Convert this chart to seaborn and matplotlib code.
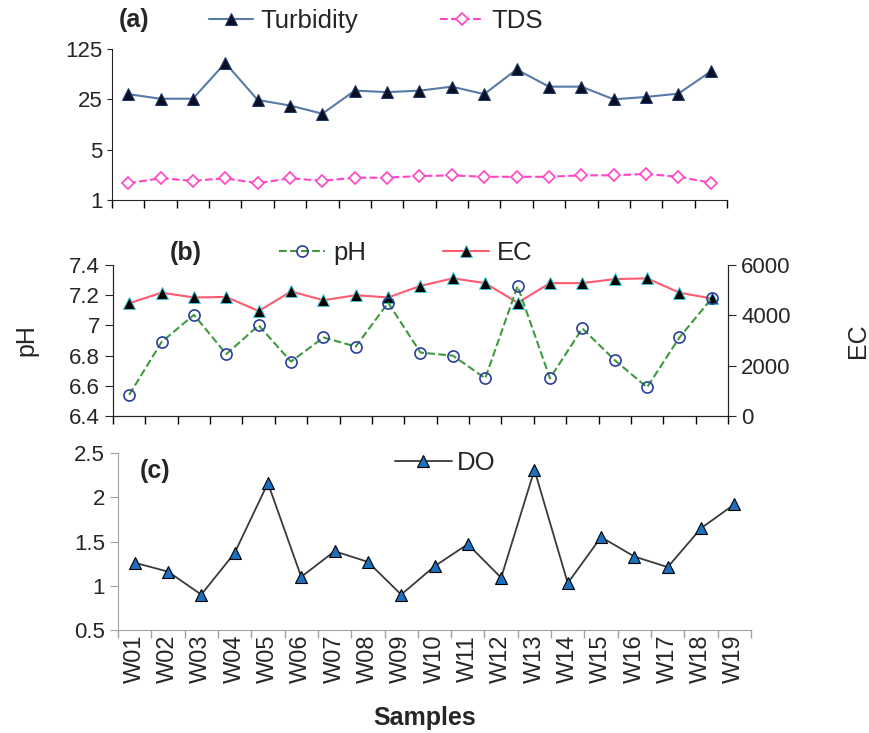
import numpy as np
import seaborn as sns
from matplotlib import pyplot as plt
from matplotlib.ticker import FixedLocator, NullLocator

samples = ["W01", "W02", "W03", "W04", "W05", "W06", "W07", "W08", "W09", "W10",
           "W11", "W12", "W13", "W14", "W15", "W16", "W17", "W18", "W19"]
turbidity = [29.5, 25.5, 25.5, 80, 24.5, 20.5, 15.8, 33, 31.5, 33,
             37.5, 29.5, 65, 37.5, 37.5, 25, 27, 30, 61]
tds = [1.71, 2.0, 1.85, 2.0, 1.71, 2.0, 1.85, 2.04, 2.04, 2.15,
       2.2, 2.1, 2.1, 2.1, 2.2, 2.2, 2.3, 2.1, 1.74]
ph = [6.54, 6.89, 7.07, 6.81, 7.00, 6.76, 6.92, 6.86, 7.15, 6.82,
      6.80, 6.65, 7.26, 6.65, 6.98, 6.77, 6.59, 6.92, 7.18]
ec = [4480, 4900, 4710, 4730, 4170, 4950, 4600, 4800, 4710, 5170,
      5470, 5280, 4500, 5280, 5280, 5440, 5470, 4900, 4670]
do = [1.26, 1.16, 0.90, 1.37, 2.16, 1.10, 1.39, 1.27, 0.90, 1.22,
      1.47, 1.09, 2.31, 1.03, 1.55, 1.33, 1.21, 1.65, 1.92]

sns.set_style("ticks")
plt.rcParams["font.family"] = ["Liberation Sans", "DejaVu Sans"]

W, H = 870, 733
fig = plt.figure(figsize=(W / 100, H / 100), dpi=100)


def box(l, t, r, b):
    return [l / W, 1 - b / H, (r - l) / W, (b - t) / H]


pos = np.arange(len(samples))
tick_fs = 16
leg_fs = 18.5


def style_x(ax, labels=False, color="black"):
    ax.set_xlim(-0.5, len(samples) - 0.5)
    ax.xaxis.set_major_locator(FixedLocator(pos))
    ax.xaxis.set_minor_locator(FixedLocator(np.arange(len(samples) + 1) - 0.5))
    ax.tick_params(axis="x", which="major", length=0)
    ax.tick_params(axis="x", which="minor", length=6, width=1, direction="out", color=color)
    if labels:
        ax.set_xticklabels(samples, rotation=90, fontsize=17)
    else:
        ax.set_xticklabels([])
    ax.set_xlabel("")


# (a) Turbidity / TDS
ax1 = fig.add_axes(box(112, 49, 727, 200))
sns.lineplot(x=pos, y=turbidity, ax=ax1, color="#587aa8", linewidth=1.5,
             marker="^", markersize=9, markerfacecolor="#0b0f24",
             markeredgecolor="#1f3a6a", label="Turbidity")
sns.lineplot(x=pos, y=tds, ax=ax1, color="#ff44c4", linewidth=1.5, linestyle="--",
             marker="D", markersize=6.5, markerfacecolor="white",
             markeredgecolor="#ff44c4", markeredgewidth=1.2, label="TDS")
ax1.set_yscale("log", base=5)
ax1.set_ylim(1, 125)
ax1.yaxis.set_major_locator(FixedLocator([1, 5, 25, 125]))
ax1.yaxis.set_minor_locator(NullLocator())
ax1.set_yticklabels(["1", "5", "25", "125"], fontsize=tick_fs)
style_x(ax1)
sns.despine(ax=ax1)
ax1.get_legend().remove()
fig.legend(*ax1.get_legend_handles_labels(), loc="center left",
           bbox_to_anchor=(186 / W, 1 - 21 / H), ncol=2, frameon=False,
           fontsize=leg_fs, handlelength=1.7, handletextpad=0.3, columnspacing=3.2)
fig.text(119 / W, 1 - 20 / H, "(a)", fontsize=18, fontweight="bold", va="center")

# (b) pH / EC
ax2 = fig.add_axes(box(113, 265, 728, 416))
ax2r = ax2.twinx()
sns.lineplot(x=pos, y=ph, ax=ax2, color="#3f9a3f", linewidth=1.5, linestyle="--",
             marker="o", markersize=8, markerfacecolor="none",
             markeredgecolor="#2b3f9a", markeredgewidth=1.2, label="pH")
sns.lineplot(x=pos, y=ec, ax=ax2r, color="#ff5a6e", linewidth=1.5,
             marker="^", markersize=9, markerfacecolor="black",
             markeredgecolor="#48c4d4", label="EC")
ax2.set_zorder(ax2r.get_zorder() + 1)
ax2.patch.set_visible(False)
ax2.set_ylim(6.4, 7.4)
ax2.set_yticks([6.4, 6.6, 6.8, 7.0, 7.2, 7.4])
ax2.set_yticklabels(["6.4", "6.6", "6.8", "7", "7.2", "7.4"], fontsize=tick_fs)
ax2.set_ylabel("pH", fontsize=18, labelpad=22)
ax2r.set_ylim(0, 6000)
ax2r.set_yticks([0, 2000, 4000, 6000])
ax2r.set_yticklabels(["0", "2000", "4000", "6000"], fontsize=tick_fs)
ax2r.set_ylabel("EC", fontsize=18, labelpad=40)
style_x(ax2)
for a in (ax2, ax2r):
    a.spines["top"].set_visible(False)
    a.tick_params(axis="y", direction="out", length=6)
h1, l1 = ax2.get_legend_handles_labels()
h2, l2 = ax2r.get_legend_handles_labels()
ax2.get_legend().remove()
ax2r.get_legend().remove()
fig.legend(h1 + h2, l1 + l2, loc="center left",
           bbox_to_anchor=(256 / W, 1 - 253 / H), ncol=2, frameon=False,
           fontsize=leg_fs, handlelength=1.8, handletextpad=0.3, columnspacing=3.0)
fig.text(170 / W, 1 - 253 / H, "(b)", fontsize=18, fontweight="bold", va="center")

# (c) DO
ax3 = fig.add_axes(box(118, 453, 751, 630))
sns.lineplot(x=pos, y=do, ax=ax3, color="#3a3a3a", linewidth=1.3,
             marker="^", markersize=9, markerfacecolor="#1f6fbf",
             markeredgecolor="black", markeredgewidth=0.8, label="DO")
ax3.set_ylim(0.5, 2.5)
ax3.set_yticks([0.5, 1.0, 1.5, 2.0, 2.5])
ax3.set_yticklabels(["0.5", "1", "1.5", "2", "2.5"], fontsize=tick_fs)
ax3.set_ylabel("")
style_x(ax3, labels=True, color="#a0a0a0")
sns.despine(ax=ax3)
for s in ("left", "bottom"):
    ax3.spines[s].set_color("#a0a0a0")
ax3.tick_params(axis="y", direction="out", length=6, color="#a0a0a0")
ax3.get_legend().remove()
fig.legend(*ax3.get_legend_handles_labels(), loc="center left",
           bbox_to_anchor=(372 / W, 1 - 463 / H), frameon=False,
           fontsize=leg_fs, handlelength=2.2, handletextpad=0.2)
fig.text(140 / W, 1 - 471 / H, "(c)", fontsize=18, fontweight="bold", va="center")

fig.text(425 / W, 1 - 718 / H, "Samples", fontsize=18, fontweight="bold",
         ha="center", va="center")

fig.savefig("out.png", dpi=100)
